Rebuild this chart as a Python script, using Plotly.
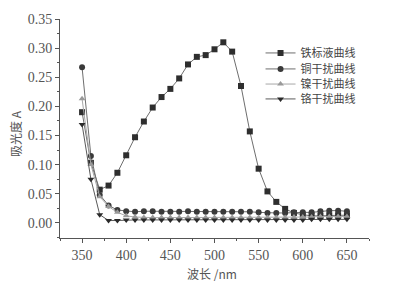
import plotly.graph_objects as go

wavelength = list(range(350, 651, 10))
iron = [0.190, 0.103, 0.057, 0.064, 0.086, 0.116, 0.147, 0.174, 0.198, 0.216, 0.230,
        0.248, 0.272, 0.285, 0.288, 0.298, 0.310, 0.294, 0.235, 0.157, 0.093, 0.054,
        0.036, 0.024, 0.017, 0.014, 0.012, 0.012, 0.013, 0.013, 0.013]
copper = [0.267, 0.115, 0.048, 0.030, 0.022, 0.020, 0.019, 0.020, 0.020, 0.019, 0.019,
          0.019, 0.020, 0.019, 0.019, 0.019, 0.019, 0.019, 0.019, 0.019, 0.018, 0.017,
          0.017, 0.017, 0.018, 0.018, 0.018, 0.020, 0.021, 0.021, 0.020]
nickel = [0.213, 0.100, 0.045, 0.028, 0.018, 0.012, 0.010, 0.009, 0.009, 0.009, 0.009,
          0.009, 0.009, 0.009, 0.009, 0.009, 0.009, 0.009, 0.009, 0.009, 0.009, 0.009,
          0.009, 0.009, 0.010, 0.010, 0.010, 0.011, 0.011, 0.011, 0.011]
chromium = [0.169, 0.075, 0.014, 0.004, 0.004, 0.005, 0.005, 0.005, 0.005, 0.005, 0.005,
            0.005, 0.005, 0.005, 0.005, 0.005, 0.005, 0.005, 0.005, 0.005, 0.005, 0.005,
            0.005, 0.005, 0.005, 0.005, 0.006, 0.006, 0.006, 0.006, 0.006]
names = ["铁标液曲线", "铜干扰曲线", "镍干扰曲线", "铬干扰曲线"]
x_ticks = [350, 400, 450, 500, 550, 600, 650]
y_ticks = [0.00, 0.05, 0.10, 0.15, 0.20, 0.25, 0.30, 0.35]

series = [iron, copper, nickel, chromium]
symbols = ["square", "circle", "triangle-up", "triangle-down"]
line_colors = ["#6e6e6e", "#6e6e6e", "#a8a8a8", "#5a5a5a"]
marker_colors = ["#2e2e2e", "#3a3a3a", "#9a9a9a", "#2a2a2a"]
legend_ids = ["legend", "legend2", "legend3", "legend4"]
legend_y = [0.845, 0.772, 0.703, 0.635]

fig = go.Figure()
for ys, nm, sym, lc, mc, lg in zip(series, names, symbols, line_colors, marker_colors, legend_ids):
    fig.add_trace(go.Scatter(
        x=wavelength, y=ys, name=nm, mode="lines+markers",
        line=dict(color=lc, width=1),
        marker=dict(symbol=sym, color=mc, size=6),
        legend=lg,
    ))

legend_style = dict(x=0.649, xanchor="left", yanchor="middle",
                    font=dict(family="Noto Sans CJK SC", size=11, color="#444"),
                    bgcolor="rgba(0,0,0,0)", itemwidth=30)
legends = {lg: dict(legend_style, y=ly) for lg, ly in zip(legend_ids, legend_y)}

axis_font = dict(family="Liberation Serif", size=14, color="#555")
title_font = dict(family="Noto Sans CJK SC", size=12, color="#555")
fig.update_layout(
    width=385, height=279,
    margin=dict(l=52, r=24, t=11, b=49),
    paper_bgcolor="white", plot_bgcolor="white",
    showlegend=True,
    **legends,
    xaxis=dict(range=[325, 675], tickvals=x_ticks, ticks="outside", ticklen=4,
               tickcolor="#555", showline=True, linecolor="#555", linewidth=1,
               showgrid=False, zeroline=False, tickfont=axis_font, automargin=False,
               minor=dict(dtick=25, tick0=350, ticks="outside", ticklen=2, tickcolor="#555")),
    yaxis=dict(range=[-0.026, 0.35], tickvals=y_ticks, tickformat=".2f", ticks="outside",
               ticklen=4, tickcolor="#555", showline=True, linecolor="#555", linewidth=1,
               showgrid=False, zeroline=False, tickfont=axis_font, automargin=False,
               minor=dict(dtick=0.025, tick0=0, ticks="outside", ticklen=2, tickcolor="#555")),
    annotations=[
        dict(text="波长 /nm", xref="paper", yref="paper", x=0.492, y=-0.160,
             xanchor="center", yanchor="middle", showarrow=False, font=title_font),
        dict(text="吸光度 A", xref="paper", yref="paper", x=-0.146, y=0.479,
             xanchor="center", yanchor="middle", showarrow=False, font=title_font, textangle=-90),
    ],
)
fig.write_html("out.html")
